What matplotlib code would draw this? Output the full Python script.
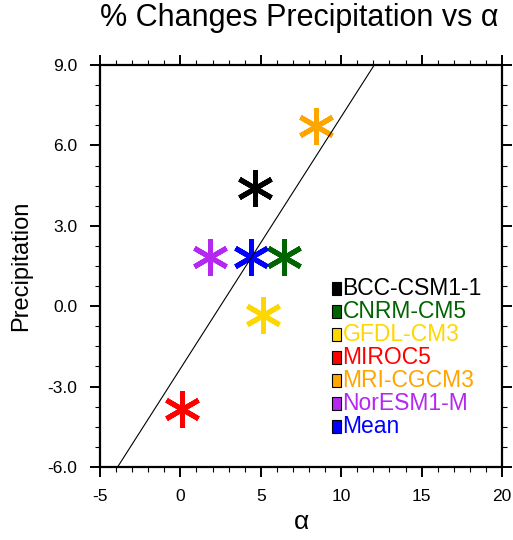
import numpy as np
import matplotlib
matplotlib.use("Agg")
import matplotlib.pyplot as plt
from matplotlib.markers import MarkerStyle
from matplotlib.patches import Rectangle

plt.rcParams['font.family'] = ['Liberation Sans', 'DejaVu Sans']
plt.rcParams['axes.unicode_minus'] = False

# model values
models = ['BCC-CSM1-1', 'CNRM-CM5', 'GFDL-CM3', 'MIROC5', 'MRI-CGCM3', 'NorESM1-M', 'Mean']
alpha = [4.67, 6.43, 5.12, 0.08, 8.42, 1.87, 4.42]
precip = [4.40, 1.85, -0.33, -3.84, 6.72, 1.85, 1.85]
colors = ['black', '#006400', '#FFD700', 'red', '#FFA500', '#B428F0', 'blue']

# fit line (slope / intercept)
slope = 0.94
intercept = -2.33

fig = plt.figure(figsize=(5.13, 5.40), dpi=100)
ax = fig.add_axes([0.1949, 0.1352, 0.7837, 0.7444])

star = MarkerStyle((6, 2, 0), capstyle='round')
for a, p, c in zip(alpha, precip, colors):
    ax.plot(a, p, linestyle='none', marker=star, markersize=26.5,
            markeredgewidth=3.6, markeredgecolor=c, color=c, zorder=3)

xl = np.array([-10, 25])
ax.plot(xl, slope * xl + intercept, color='black', lw=0.8, zorder=4)

ax.set_xlim(-5, 20)
ax.set_ylim(-6, 9)
ax.set_xticks(np.arange(-5, 21, 5))
ax.set_xticks(np.arange(-5, 21, 1), minor=True)
ax.set_yticks(np.arange(-6, 9.1, 3))
ax.set_yticks(np.arange(-6, 9.1, 0.75), minor=True)
ax.set_yticklabels(['%.1f' % v for v in np.arange(-6, 9.1, 3)])

for s in ax.spines.values():
    s.set_linewidth(1.6)
ax.tick_params(which='major', direction='out', length=7.2, width=1.4,
               labelsize=12.5, top=True, right=True, pad=9)
ax.tick_params(which='minor', direction='out', length=3.6, width=0.8,
               top=True, right=True)

ax.set_xlabel('α', fontsize=19, labelpad=4)
ax.set_ylabel('Precipitation', fontsize=17, labelpad=11)
fig.text(0.583, 1 - 18 / 540, '% Changes Precipitation vs α',
         ha='center', va='center', fontsize=22)

# legend: coloured boxes with coloured names
y0 = 0.443
dy = 0.0572
for i, (m, c) in enumerate(zip(models, colors)):
    y = y0 - i * dy
    ax.add_patch(Rectangle((0.577, y - 0.016), 0.022, 0.032, transform=ax.transAxes,
                           facecolor=c, edgecolor='black', lw=0.8, zorder=5))
    ax.text(0.603, y, m, transform=ax.transAxes, color=c, fontsize=16.5,
            va='center', ha='left', zorder=5)

fig.savefig('out.png', dpi=100)
